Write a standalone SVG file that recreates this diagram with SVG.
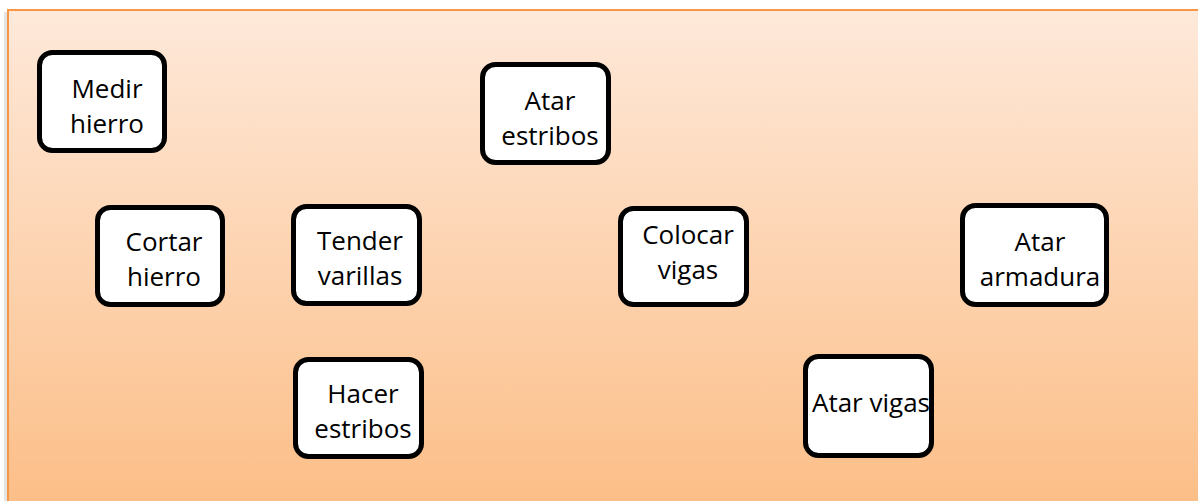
<svg xmlns="http://www.w3.org/2000/svg" width="1198" height="501" viewBox="0 0 1198 501">
<defs>
<linearGradient id="bg" x1="0" y1="0" x2="0" y2="1">
<stop offset="0" stop-color="#fee9da"/>
<stop offset="1" stop-color="#fcbe87"/>
</linearGradient>
<style>
.box{fill:#fff;stroke:#000;stroke-width:5}
.t{font-family:"Open Sans","Liberation Sans",sans-serif;font-size:26px;fill:#000;text-anchor:middle}
</style>
</defs>
<rect x="4" y="12" width="1200" height="495" fill="#d9d9d9" opacity="0.7"/>
<rect x="8" y="10" width="1196" height="497" fill="url(#bg)" stroke="#f79646" stroke-width="2"/>
<g id="medir-hierro"><rect class="box" x="39.5" y="52.5" width="125" height="98" rx="13"/><text class="t" x="107" y="98">Medir</text><text class="t" x="107" y="133">hierro</text></g>
<g id="atar-estribos"><rect class="box" x="482.5" y="64.5" width="126" height="98" rx="13"/><text class="t" x="550" y="110">Atar</text><text class="t" x="550" y="145">estribos</text></g>
<g id="cortar-hierro"><rect class="box" x="97.5" y="207.5" width="125" height="97" rx="13"/><text class="t" x="164" y="251">Cortar</text><text class="t" x="164" y="286">hierro</text></g>
<g id="tender-varillas"><rect class="box" x="293.5" y="206.5" width="126" height="97" rx="13"/><text class="t" x="360" y="250">Tender</text><text class="t" x="360" y="285">varillas</text></g>
<g id="colocar-vigas"><rect class="box" x="620.5" y="208.5" width="126" height="96" rx="13"/><text class="t" x="688" y="244">Colocar</text><text class="t" x="688" y="279">vigas</text></g>
<g id="atar-armadura"><rect class="box" x="962.5" y="205.5" width="144" height="99" rx="13"/><text class="t" x="1040" y="251">Atar</text><text class="t" x="1040" y="286">armadura</text></g>
<g id="hacer-estribos"><rect class="box" x="295.5" y="359.5" width="126" height="97" rx="13"/><text class="t" x="363" y="403">Hacer</text><text class="t" x="363" y="438">estribos</text></g>
<g id="atar-vigas"><rect class="box" x="805.5" y="356.5" width="126" height="99" rx="13"/><text class="t" x="871" y="412">Atar vigas</text></g>
<g id="connectors"></g>
</svg>
